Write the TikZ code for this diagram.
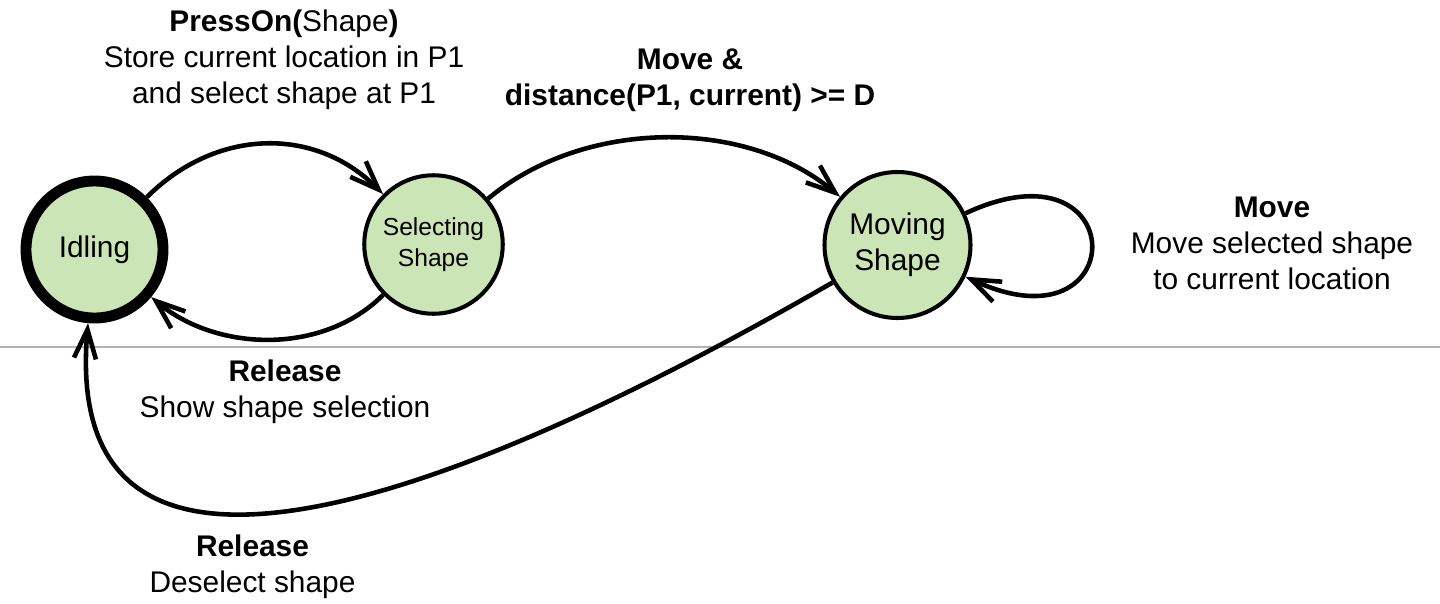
\documentclass[tikz,border=0pt]{standalone}
\usepackage{fontspec}
\setmainfont{Liberation Sans}
\usepackage{xcolor}
\usepackage{tikz}
\usetikzlibrary{shapes,arrows.meta}
\definecolor{stategreen}{RGB}{204,229,182}
\tikzstyle{state} = [circle, draw, fill=stategreen, line width=2.3pt, text centered, align=center, minimum size=2.77cm, inner sep=0pt, font=\fontsize{17}{20.5}\selectfont]
\tikzstyle{line} = [draw, line width=2.6pt, -{Straight Barb[length=5.8mm,width=4.4mm]}]
\tikzstyle{note} = [align=center, font=\fontsize{17}{20.5}\selectfont]

\begin{document}
\begin{tikzpicture}
\useasboundingbox (0,0) rectangle (28.8,-12.06);
\draw [gray!60, line width=1.1pt] (0,-6.94) -- (28.8,-6.94);
\node [state, line width=6.2pt, minimum size=2.74cm] (idling) at (1.89,-4.99) {Idling};
\node [state, font=\fontsize{14}{18}\selectfont] (selecting) at (8.67,-4.89) {Selecting\\Shape};
\node [state, minimum size=2.92cm] (moving) at (17.95,-4.9) {Moving\\Shape};
\path [line] (idling) to[out=45,in=135,looseness=1.05] (selecting);
\path [line] (selecting) to[out=225,in=-40,looseness=0.94] (idling);
\path [line] (selecting) to[out=40,in=140,looseness=0.9] (moving);
\path [line] (moving.25) .. controls +(25:3.7) and +(-25:3.7) .. (moving.-25);
\path [line] (moving) to[out=210,in=-95,out looseness=1.45,in looseness=1.14] (idling);
\node [note] (press-label) at (5.68,-1.2) {\textbf{PressOn(}Shape\textbf{)}\\Store current location in P1\\and select shape at P1};
\node [note] (move-label) at (13.8,-1.6) {\textbf{Move \&}\\\textbf{distance(P1, current) >= D}};
\node [note] (loop-label) at (25.44,-4.87) {\textbf{Move}\\Move selected shape\\to current location};
\node [note] (release-label) at (5.7,-7.84) {\textbf{Release}\\Show shape selection};
\node [note] (deselect-label) at (5.05,-11.34) {\textbf{Release}\\Deselect shape};
\end{tikzpicture}
\end{document}
